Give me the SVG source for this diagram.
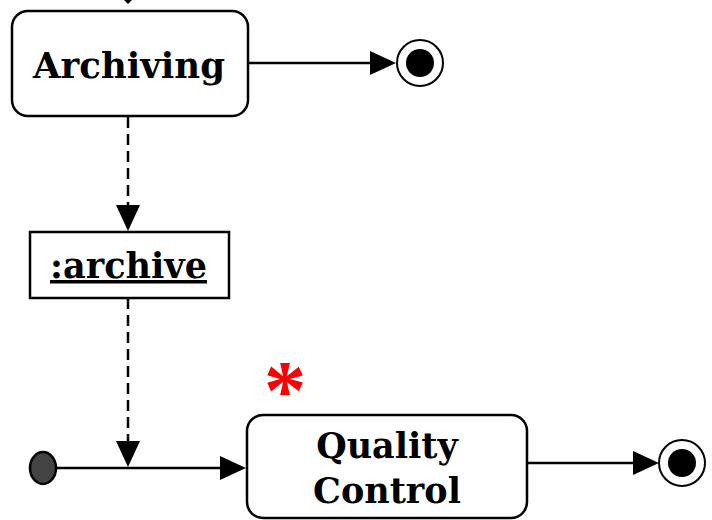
<svg xmlns="http://www.w3.org/2000/svg" width="712" height="520" viewBox="0 0 712 520">
<defs>
<style>
.state{fill:#fff;stroke:#000;stroke-width:2.5}
.lbl{font-family:"DejaVu Serif","Liberation Serif",serif;font-weight:bold;font-size:35px;fill:#000;text-anchor:middle}
.edge{fill:none;stroke:#000;stroke-width:2.5}
.dash{fill:none;stroke:#000;stroke-width:2.5;stroke-dasharray:11 6}
.head{fill:#000}
</style>
</defs>
<g id="connectors">
<polygon class="head" points="124,0 132,0 128,4"/>
<line class="edge" x1="248" y1="63" x2="372" y2="63"/>
<polygon class="head" points="370,51 396,63 370,75"/>
<line class="dash" x1="128" y1="117" x2="128" y2="205"/>
<polygon class="head" points="116,205 140,205 128,231"/>
<line class="dash" x1="128" y1="298" x2="128" y2="443"/>
<polygon class="head" points="116,441 140,441 128,467"/>
<line class="edge" x1="56" y1="468" x2="222" y2="468"/>
<polygon class="head" points="220,456 246,468 220,480"/>
<line class="edge" x1="527" y1="463" x2="636" y2="463"/>
<polygon class="head" points="633,451 659,463 633,475"/>
</g>
<g id="archiving">
<rect class="state" x="12" y="11" width="236" height="105" rx="16"/>
<text class="lbl" x="129" y="78" textLength="192" lengthAdjust="spacingAndGlyphs">Archiving</text>
</g>
<g id="final1">
<circle cx="420" cy="63" r="23" fill="#fff" stroke="#000" stroke-width="2"/>
<circle cx="420" cy="63" r="14" fill="#000"/>
</g>
<g id="archive">
<rect x="30" y="232" width="199" height="66" fill="#fff" stroke="#000" stroke-width="2.5"/>
<text class="lbl" x="128.5" y="278" textLength="157" lengthAdjust="spacingAndGlyphs" text-decoration="underline">:archive</text>
</g>
<g id="initial">
<ellipse cx="43" cy="468" rx="13" ry="16" fill="#444" stroke="#000" stroke-width="2.5"/>
</g>
<g id="quality">
<rect class="state" x="247" y="415" width="280" height="103" rx="16"/>
<text class="lbl" x="387" y="458">Quality</text>
<text class="lbl" x="387" y="503">Control</text>
<text x="285" y="419" font-family="Liberation Serif,serif" font-weight="bold" font-size="85" fill="#ff0000" text-anchor="middle">*</text>
</g>
<g id="final2">
<circle cx="682" cy="463" r="23" fill="#fff" stroke="#000" stroke-width="2"/>
<circle cx="682" cy="463" r="14" fill="#000"/>
</g>
</svg>
